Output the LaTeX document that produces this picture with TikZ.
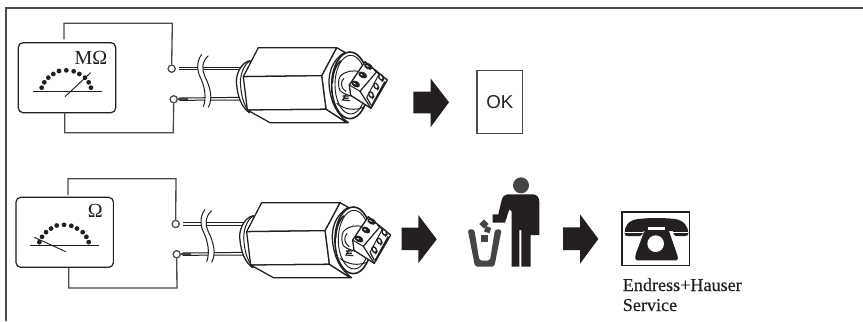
\documentclass[tikz,border=0pt]{standalone}
\usepackage{fontspec}
\setmainfont{Liberation Serif}
\newfontfamily\okfont{Liberation Sans}
\newfontfamily\capfont[FakeBold=0.35]{Liberation Serif}
\definecolor{wirec}{HTML}{4A4A4A}
\definecolor{ink}{HTML}{231F20}
\definecolor{binc}{HTML}{454545}
\tikzset{
  wire/.style={draw=wirec,line width=1pt},
  metbox/.style={draw=ink,line width=0.9pt,rounded corners=3.5pt,minimum width=73pt,minimum height=52.5pt,inner sep=0pt},
  term/.style={circle,draw=wirec,fill=white,line width=0.85pt,minimum size=5.3pt,inner sep=0pt},
  scaleline/.style={draw=ink,line width=0.7pt},
  bigarrow/.style={fill=ink,draw=none},
  sline/.style={draw=ink,line width=0.75pt},
  sfill/.style={draw=ink,line width=0.75pt,fill=white,line join=round},
}
\newcommand{\sensorbody}{%
  % cables
  \fill[white] (-30,141) rectangle (150,152);
  \draw[sline] (-32,142.5) -- (152,142.5) (-32,150) -- (152,150);
  \draw[sline] (-32,234) -- (160,232) (-32,241) -- (160,240);
  \fill[ink!85] (-37,234) rectangle (-6,241);
  % cable break
  \fill[white] (35,103) .. controls (15,130) and (25,160) .. (30,170) .. controls (45,200) and (50,235) .. (40,260)
     -- (55,262) .. controls (70,235) and (60,200) .. (45,170) .. controls (35,150) and (35,125) .. (55,107) -- cycle;
  \draw[sline] (35,103) .. controls (15,130) and (25,160) .. (30,170) .. controls (45,200) and (50,235) .. (40,260);
  \draw[sline] (55,107) .. controls (35,125) and (35,150) .. (45,170) .. controls (60,200) and (70,235) .. (55,262);
  % left collar
  \draw[sfill,line width=0.95pt] (180,122) .. controls (150,128) and (135,170) .. (140,195) .. controls (143,230) and (155,262) .. (178,278) -- (190,200) -- cycle;
  \draw[sline] (178,124) .. controls (160,135) and (148,170) .. (152,200) .. controls (155,235) and (165,262) .. (178,274);
  % right collar
  \draw[sfill,line width=0.95pt] (440,83) -- (465,97) .. controls (425,120) and (410,165) .. (420,215) .. controls (428,262) and (450,290) .. (475,308) -- (470,308) -- (408,268) -- (395,167) -- cycle;
  % hexagon
  \draw[sfill,line width=0.95pt] (205,83) -- (440,83) -- (395,167) -- (160,170) -- cycle;
  \draw[sfill,line width=0.95pt] (160,170) -- (395,167) -- (408,268) -- (172,270) -- cycle;
  \draw[sfill,line width=0.95pt] (172,270) -- (408,268) -- (470,308) -- (240,308) -- cycle;
  % end ring
  \draw[sfill,line width=1.2pt] (480,196) ellipse [x radius=55,y radius=100];
  \draw[sfill,line width=0.7pt] (482,194) ellipse [x radius=47,y radius=88];
  \draw[sline,line width=1.2pt] (427,190) .. controls (428,160) and (437,135) .. (452,122);
  % inner barrel
  \draw[sfill] (450,170) .. controls (465,152) and (490,150) .. (510,155) -- (505,235) .. controls (480,225) and (462,225) .. (450,212) .. controls (444,200) and (444,180) .. (450,170) -- cycle;
  \draw[sline] (462,175) .. controls (450,185) and (452,205) .. (468,215);
  \draw[sline,line width=0.9pt] (458,228) -- (478,228) (460,235) -- (476,235) (468,222) -- (458,240) -- (480,242);
  \draw[sline] (440,250) .. controls (465,270) and (495,272) .. (520,262);
  % terminal block
  \draw[sfill,line width=1pt] (525,125) -- (592,180) -- (543,265) -- (482,226) -- (478,195) -- cycle;
  \draw[sline,line width=0.9pt] (562,153) -- (510,214) -- (543,265);
  \draw[sline] (478,195) -- (510,214);
  \draw[sline] (552,150) -- (575,170) (566,165) -- (530,232);
  % screws
  \foreach \sx/\sy in {535/139,518/165,497/192}{
    \fill[ink] (\sx,\sy) ellipse [x radius=14,y radius=9,rotate=-28];
    \fill[white] (\sx-3,\sy-1) ellipse [x radius=5,y radius=1.6,rotate=-28];
  }
  % terminal openings
  \foreach \sx/\sy in {573/172,558/198,543/224}{
    \draw[sline,line width=1pt,fill=white] (\sx,\sy) ellipse [x radius=6,y radius=9,rotate=30];
    \draw[sline,line width=1pt] (\sx+3,\sy+13) -- (\sx+9,\sy+4);
  }
  \draw[sline,line width=1.2pt] (585,185) -- (545,258);
  \draw[sline,line width=0.9pt] (530,232) -- (543,255);
}
\newcommand{\meterdots}{%
  \foreach \dx/\dy in {125/263,133/247,145/233,160/222,177/213,199/211,221/214,238/222,255/233,266/247,273/263}
    \fill[ink] (\dx,\dy) circle (7.2);
  \draw[scaleline] (98,274) -- (305,274);
}
\begin{document}
\begin{tikzpicture}[x=0.75pt,y=-0.75pt]
\useasboundingbox (0,0) rectangle (863,321);
\fill[white] (0,0) rectangle (863,321);
% outer frame
\coordinate (fa) at (6,321);
\coordinate (fb) at (6,7.8);
\coordinate (fc) at (863,7.8);
\draw[draw=wirec,line width=1.2pt] (fa) -- (fb) -- (fc);

% upper meter
\node[metbox] (meterA) at (67,77.7) {};
\node[font=\fontsize{15}{16}\selectfont,text=ink,inner sep=0pt] (labelA) at (91,58.3) {MΩ};
\begin{scope}[scale=1/3]
  \meterdots
  \draw[scaleline] (195,290) -- (272,218);
\end{scope}
\node[term] (t1) at (171.7,68.7) {};
\node[term] (t2) at (173.7,99.3) {};
\coordinate (wa) at (64,39.5);
\coordinate (wb) at (64,23.3);
\coordinate (wc) at (172.3,23.3);
\draw[wire] (wa) -- (wb) -- (wc) -- (t1.north);
\coordinate (wd) at (64.7,112.7);
\coordinate (we) at (64.7,132.7);
\coordinate (wf) at (173.3,132.7);
\draw[wire] (wd) -- (we) -- (wf) -- (t2.south);

% lower meter
\node[metbox] (meterB) at (64.7,232.3) {};
\node[font=\fontsize{15}{16}\selectfont,text=ink,inner sep=0pt] (labelB) at (95.3,210.7) {Ω};
\begin{scope}[shift={(-2.3,154.5)},scale=1/3]
  \meterdots
\end{scope}
\begin{scope}[shift={(0,160)},scale=1/3]
  \draw[scaleline] (103,232) -- (197,275);
\end{scope}
\node[term] (t3) at (175.7,224) {};
\node[term] (t4) at (176.7,254.3) {};
\coordinate (wg) at (68,195);
\coordinate (wh) at (68,178.7);
\coordinate (wi) at (176,178.7);
\draw[wire] (wg) -- (wh) -- (wi) -- (t3.north);
\coordinate (wj) at (68.7,267.3);
\coordinate (wk) at (68.7,288);
\coordinate (wl) at (177,288);
\draw[wire] (wj) -- (wk) -- (wl) -- (t4.south);

% sensors
\begin{scope}[shift={(190,20)},scale=1/3]
  \sensorbody
\end{scope}
\begin{scope}[shift={(193.3,175)},scale=1/3]
  \sensorbody
\end{scope}
\node[term] at (t1) {};
\node[term] at (t2) {};
\node[term] at (t3) {};
\node[term] at (t4) {};

% arrows
\fill[bigarrow] (413.3,91.7) -- (430.5,91.7) -- (430.5,78.3) -- (449,102.3) -- (430.5,127.3) -- (430.5,113.3) -- (413.3,113.3) -- cycle;
\fill[bigarrow] (401.7,227.7) -- (418.3,227.7) -- (418.3,215) -- (436.7,239.3) -- (418.3,263.3) -- (418.3,250) -- (401.7,250) -- cycle;
\fill[bigarrow] (563,227.3) -- (580,227.3) -- (580,214.3) -- (598.3,239) -- (580,263.7) -- (580,250) -- (563,250) -- cycle;

% OK
\node[draw=wirec,line width=1pt,minimum width=34.3pt,minimum height=47.3pt,inner sep=0pt,font=\okfont\fontsize{14}{15}\selectfont,text=ink] (ok) at (499.8,102.2) {OK};

% person and bin
\begin{scope}[shift={(420,170)},scale=1/3]
  \fill[binc] (303,46) circle (24);
  \fill[ink] (262,73) -- (338,73) .. controls (350,73) and (358,82) .. (358,95) -- (358,195) -- (332,195) -- (332,290) -- (304,290) -- (304,180) -- (298,180) -- (298,290) -- (275,290) -- (275,125) -- (268,118) -- (255,158) -- (218,158) -- (218,133) -- (235,133) -- (245,90) .. controls (248,80) and (254,73) .. (262,73) -- cycle;
  \fill[binc,rounded corners=2pt] (143,178) -- (163,178) -- (178,272) -- (210,272) -- (225,178) -- (245,178) -- (223,290) -- (165,290) -- cycle;
  \fill[binc] (192,148) -- (206,162) -- (192,176) -- (178,162) -- cycle;
  \fill[binc] (203,179) ++(-5,-11) -- ++(16,6) -- ++(-6,16) -- ++(-16,-6) -- cycle;
  \fill[binc] (184,196) rectangle (204,216);
\end{scope}

% telephone
\node[draw=ink,line width=1.1pt,minimum width=50.5pt,minimum height=40pt,inner sep=0pt] (phonebox) at (655.8,238.8) {};
\begin{scope}[shift={(580,200)},scale=1/3]
  \fill[ink] (134,100) .. controls (132,80) and (145,60) .. (175,57) .. controls (210,53) and (250,53) .. (285,57) .. controls (310,60) and (326,80) .. (325,100) .. controls (325,106) and (322,108) .. (315,108) -- (288,108) .. controls (282,108) and (280,102) .. (279,93) -- (190,93) .. controls (189,102) and (186,108) .. (180,108) -- (142,108) .. controls (137,108) and (134,106) .. (134,100) -- cycle;
  \fill[ink] (192,96) -- (206,80) -- (254,80) -- (268,96) -- (290,160) .. controls (294,172) and (296,180) .. (290,181) -- (170,181) .. controls (164,180) and (165,172) .. (168,160) -- cycle;
  \fill[white] (227,131) circle (25);
  \fill[white] (205,82) rectangle (254,89);
  \draw[white,line width=0.3pt] (136,96) -- (190,96) (280,96) -- (324,96);
\end{scope}

% caption
\node[anchor=base west,inner sep=0pt,text=ink,font=\capfont\fontsize{13.6}{15}\selectfont] (capa) at (622.5,291) {Endress+Hauser};
\node[anchor=base west,inner sep=0pt,text=ink,font=\capfont\fontsize{13.6}{15}\selectfont] (capb) at (622.5,311) {Service};
\end{tikzpicture}
\end{document}
